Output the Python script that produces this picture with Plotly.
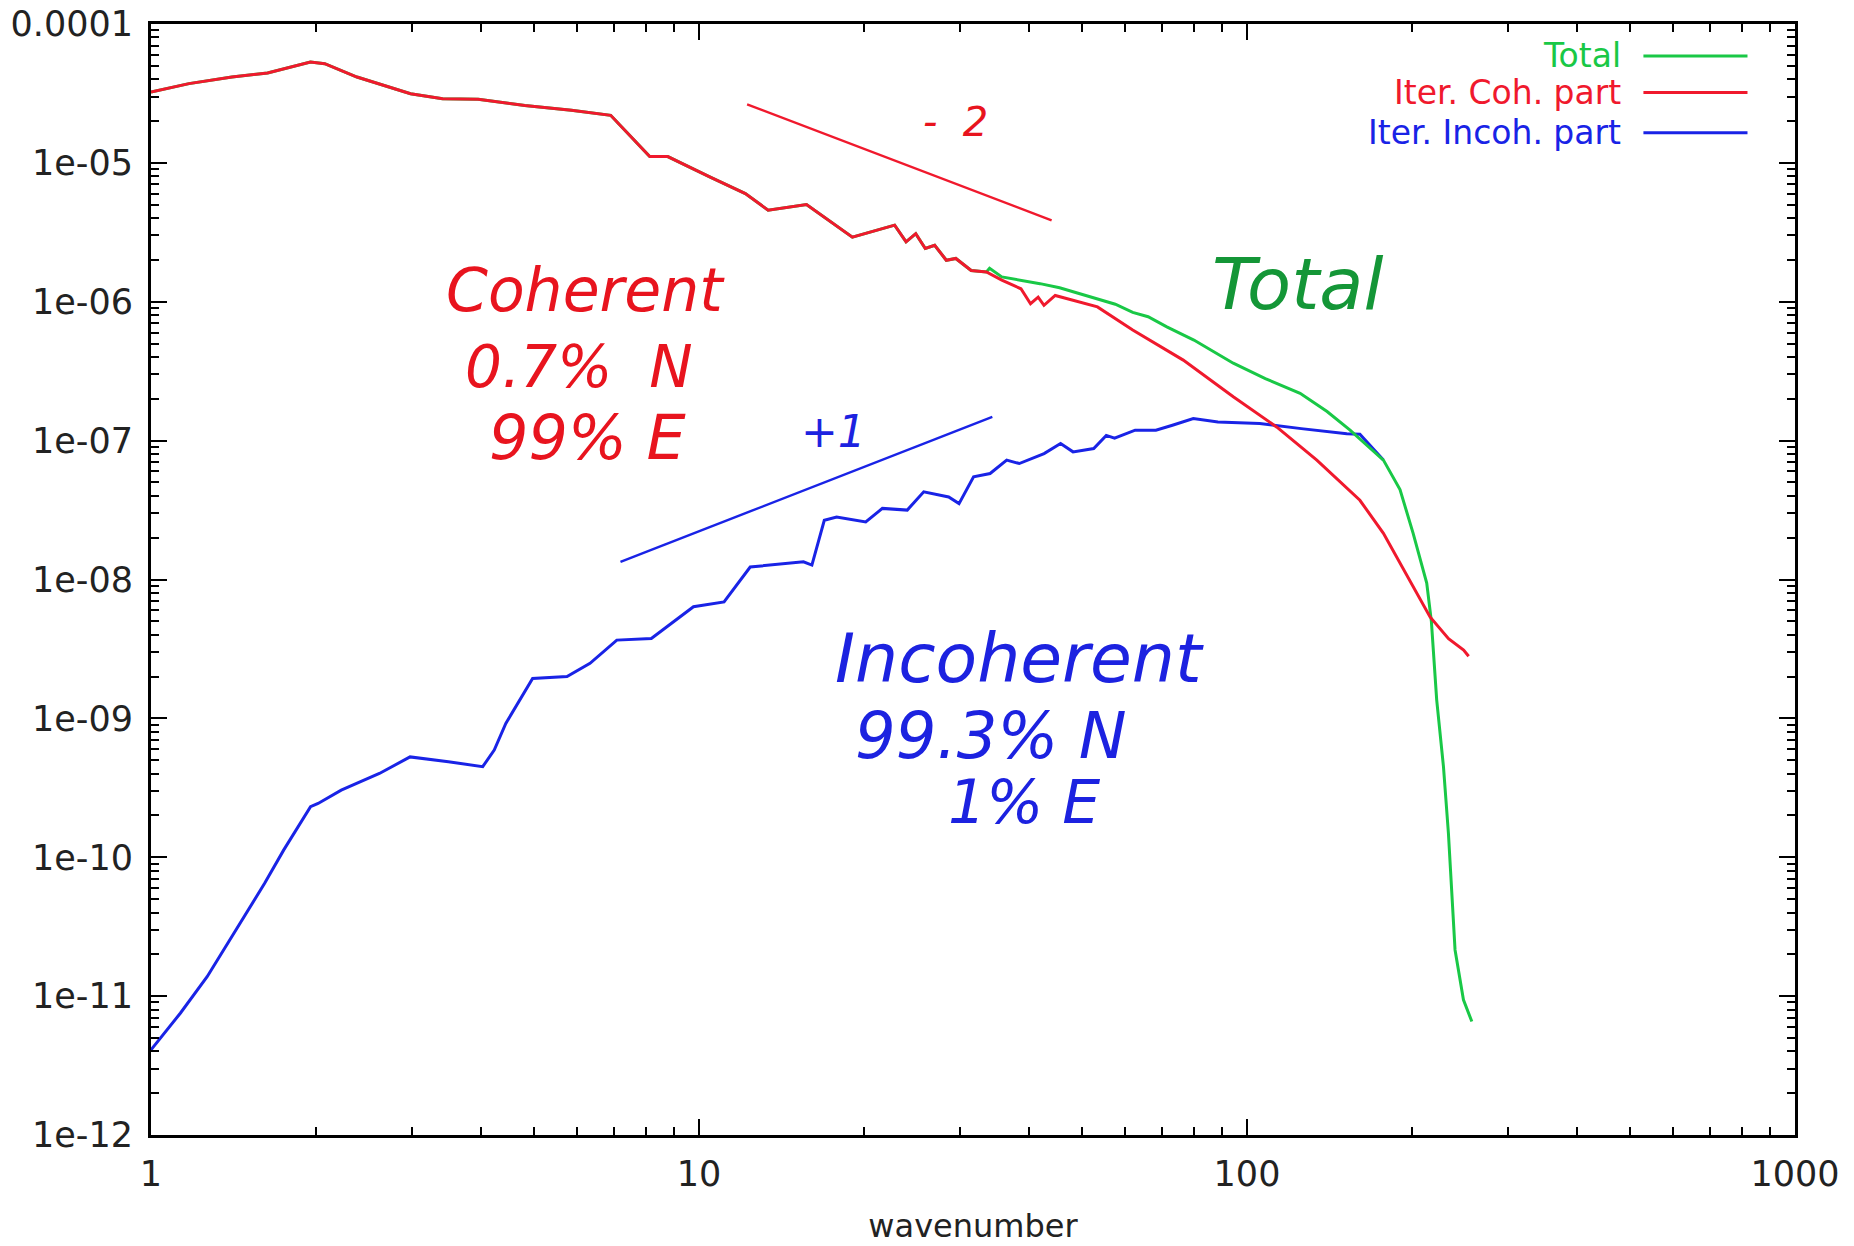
import plotly.graph_objects as go

# ---------------- data ----------------
k_tot = [1, 1.173, 1.405, 1.632, 1.954, 2.075, 2.376, 2.976, 3.405, 3.954, 4.81, 5.85, 6.90, 7.32,
         8.13, 8.77, 9.85, 10.46, 12.15, 13.37, 15.71, 19.05, 22.75, 23.87, 24.86, 25.88, 26.92,
         28.27, 29.42, 31.38, 33.46, 33.9, 35.69, 38.5, 41.91, 45.5, 49.2, 53.8, 57.5, 61.87, 66.0,
         71.4, 80.0, 94.4, 108, 125, 140, 154.2, 177.4, 190.2, 201, 212.8, 217, 221.9, 228.3,
         233.1, 236.5, 239.7, 248.3, 257.2]
E_tot = [3.24e-5, 3.72e-5, 4.15e-5, 4.44e-5, 5.32e-5, 5.18e-5, 4.15e-5, 3.15e-5, 2.90e-5, 2.87e-5,
         2.59e-5, 2.39e-5, 2.20e-5, 1.71e-5, 1.11e-5, 1.11e-5, 8.83e-6, 7.92e-6, 6.01e-6, 4.56e-6,
         5.01e-6, 2.92e-6, 3.56e-6, 2.70e-6, 3.09e-6, 2.42e-6, 2.55e-6, 1.99e-6, 2.05e-6, 1.68e-6,
         1.64e-6, 1.74e-6, 1.51e-6, 1.44e-6, 1.35e-6, 1.26e-6, 1.15e-6, 1.03e-6, 9.6e-7, 8.38e-7,
         7.8e-7, 6.59e-7, 5.3e-7, 3.61e-7, 2.80e-7, 2.19e-7, 1.62e-7, 1.19e-7, 7.24e-8, 4.44e-8,
         2.15e-8, 9.42e-9, 5.0e-9, 1.36e-9, 4.49e-10, 1.49e-10, 4.92e-11, 2.15e-11, 9.40e-12, 6.56e-12]

k_coh = [1, 1.173, 1.405, 1.632, 1.954, 2.075, 2.376, 2.976, 3.405, 3.954, 4.81, 5.85, 6.90, 7.32,
         8.13, 8.77, 9.85, 10.46, 12.15, 13.37, 15.71, 19.05, 22.75, 23.87, 24.86, 25.88, 26.92,
         28.27, 29.42, 31.38, 33.46, 35.69, 38.68, 40.27, 41.58, 42.61, 44.67, 53.35, 61.87, 76.5,
         94.4, 113.4, 134.1, 160.7, 177.4, 195.9, 215.8, 233.2, 248.5, 253.8]
E_coh = [3.24e-5, 3.72e-5, 4.15e-5, 4.44e-5, 5.32e-5, 5.18e-5, 4.15e-5, 3.15e-5, 2.90e-5, 2.87e-5,
         2.59e-5, 2.39e-5, 2.20e-5, 1.71e-5, 1.11e-5, 1.11e-5, 8.83e-6, 7.92e-6, 6.01e-6, 4.56e-6,
         5.01e-6, 2.92e-6, 3.56e-6, 2.70e-6, 3.09e-6, 2.42e-6, 2.55e-6, 1.99e-6, 2.05e-6, 1.68e-6,
         1.64e-6, 1.43e-6, 1.24e-6, 9.68e-7, 1.08e-6, 9.42e-7, 1.11e-6, 9.18e-7, 6.25e-7, 3.80e-7,
         2.07e-7, 1.25e-7, 7.24e-8, 3.72e-8, 2.15e-8, 1.06e-8, 5.38e-9, 3.75e-9, 3.10e-9, 2.80e-9]

k_inc = [1, 1.131, 1.266, 1.417, 1.612, 1.747, 1.955, 2.018, 2.224, 2.611, 2.970, 3.489, 4.030,
         4.230, 4.441, 4.970, 5.743, 6.326, 7.08, 8.185, 9.77, 11.11, 12.40, 15.51, 16.07, 16.93,
         17.83, 20.15, 21.61, 23.99, 25.71, 28.55, 29.82, 31.70, 33.98, 36.43, 38.41, 42.63, 45.69,
         48.14, 52.52, 55.36, 57.33, 62.50, 68.2, 73.1, 79.8, 88.5, 105.5, 125.6, 152.1, 160.7, 177.4]
E_inc = [4.1e-12, 7.53e-12, 1.38e-11, 2.83e-11, 6.49e-11, 1.13e-10, 2.31e-10, 2.44e-10, 3.04e-10,
         4.01e-10, 5.28e-10, 4.87e-10, 4.49e-10, 5.92e-10, 9.19e-10, 1.94e-9, 2.00e-9, 2.49e-9,
         3.66e-9, 3.76e-9, 6.37e-9, 6.90e-9, 1.23e-8, 1.34e-8, 1.27e-8, 2.67e-8, 2.82e-8, 2.60e-8,
         3.25e-8, 3.16e-8, 4.28e-8, 3.93e-8, 3.52e-8, 5.48e-8, 5.80e-8, 7.24e-8, 6.84e-8, 8.07e-8,
         9.53e-8, 8.30e-8, 8.77e-8, 1.09e-7, 1.04e-7, 1.19e-7, 1.19e-7, 1.29e-7, 1.44e-7, 1.36e-7,
         1.33e-7, 1.22e-7, 1.12e-7, 1.11e-7, 7.24e-8]

# hand-drawn slope guides
k_slope_m2 = [12.24, 44.0]
E_slope_m2 = [2.64e-5, 3.86e-6]
k_slope_p1 = [7.19, 34.3]
E_slope_p1 = [1.34e-8, 1.48e-7]

x_tickvals = [1, 10, 100, 1000]
x_ticktext = ["1", "10", "100", "1000"]
y_tickvals = [1e-4, 1e-5, 1e-6, 1e-7, 1e-8, 1e-9, 1e-10, 1e-11, 1e-12]
y_ticktext = ["0.0001", "1e-05", "1e-06", "1e-07", "1e-08", "1e-09", "1e-10", "1e-11", "1e-12"]

legend_names = ["Total", "Iter. Coh. part", "Iter. Incoh. part"]

# ---------------- styling ----------------
C_GREEN = "rgb(25,200,70)"
C_RED = "rgb(240,25,45)"
C_BLUE = "rgb(25,35,230)"
H_RED = "rgb(232,20,30)"
H_BLUE = "rgb(28,34,224)"
H_GREEN = "rgb(20,150,55)"

fig = go.Figure()
fig.add_trace(go.Scatter(x=k_inc, y=E_inc, mode="lines", line=dict(color=C_BLUE, width=3),
                         name=legend_names[2], showlegend=False))
fig.add_trace(go.Scatter(x=k_tot, y=E_tot, mode="lines", line=dict(color=C_GREEN, width=3),
                         name=legend_names[0], showlegend=False))
fig.add_trace(go.Scatter(x=k_coh, y=E_coh, mode="lines", line=dict(color=C_RED, width=3),
                         name=legend_names[1], showlegend=False))
fig.add_trace(go.Scatter(x=k_slope_m2, y=E_slope_m2, mode="lines",
                         line=dict(color=C_RED, width=2.4), showlegend=False))
fig.add_trace(go.Scatter(x=k_slope_p1, y=E_slope_p1, mode="lines",
                         line=dict(color=C_BLUE, width=2.4), showlegend=False))

tick_font = dict(family="DejaVu Sans", size=35, color="#222")

x_minor = [m * 10 ** e for e in range(0, 3) for m in range(2, 10)]
y_minor = [m * 10.0 ** e for e in range(-12, -4) for m in range(2, 10)]

fig.update_xaxes(type="log", range=[0, 3], tickvals=x_tickvals, ticktext=x_ticktext,
                 ticks="inside", ticklen=16, tickwidth=2, tickcolor="black",
                 showline=True, linecolor="black", linewidth=3, mirror="ticks",
                 showgrid=False, zeroline=False, tickfont=tick_font, ticklabelstandoff=6,
                 automargin=False, ticklabeloverflow="allow",
                 minor=dict(tickvals=x_minor, ticks="inside", ticklen=8, tickwidth=1.5,
                            tickcolor="black", showgrid=False),
                 title=dict(text="wavenumber", font=dict(family="DejaVu Sans", size=32, color="#222"),
                            standoff=22))
fig.update_yaxes(type="log", range=[-12, -4], tickvals=y_tickvals, ticktext=y_ticktext,
                 ticks="inside", ticklen=16, tickwidth=2, tickcolor="black",
                 showline=True, linecolor="black", linewidth=3, mirror="ticks",
                 showgrid=False, zeroline=False, tickfont=tick_font, ticklabelstandoff=8,
                 automargin=False, ticklabeloverflow="allow",
                 minor=dict(tickvals=y_minor, ticks="inside", ticklen=8, tickwidth=1.5,
                            tickcolor="black", showgrid=False))

# ---------------- hand-written notes ----------------
hand = dict(family="DejaVu Sans", style="italic")
notes = [
    ("Coherent", 0.2642, 0.7606, H_RED, 60),
    ("0.7%  N", 0.2606, 0.6915, H_RED, 58),
    ("99% E", 0.2656, 0.6276, H_RED, 62),
    ("-  2", 0.4893, 0.9116, H_RED, 40),
    ("+1", 0.4152, 0.6329, H_BLUE, 44),
    ("Total", 0.6979, 0.7659, H_GREEN, 72),
    ("Incoherent", 0.5281, 0.4286, H_BLUE, 68),
    ("99.3% N", 0.5108, 0.3595, H_BLUE, 64),
    ("1% E", 0.5310, 0.2999, H_BLUE, 60),
]
for txt, px, py, col, sz in notes:
    fig.add_annotation(text=txt, x=px, y=py, xref="paper", yref="paper", showarrow=False,
                       xanchor="center", yanchor="middle",
                       font=dict(color=col, size=sz, **hand))

# ---------------- legend (text then line sample, like gnuplot) ----------------
leg_cols = [C_GREEN, C_RED, C_BLUE]
leg_y = [0.9712, 0.9383, 0.9021]
for name, col, ly in zip(legend_names, leg_cols, leg_y):
    fig.add_annotation(text=name, x=0.8954, y=ly, xref="paper", yref="paper", showarrow=False,
                       xanchor="right", yanchor="middle",
                       font=dict(family="DejaVu Sans", size=33, color=col))
    fig.add_shape(type="line", xref="paper", yref="paper", x0=0.9078, x1=0.9711, y0=ly, y1=ly,
                  line=dict(color=col, width=3))

fig.update_layout(width=1854, height=1246, plot_bgcolor="white", paper_bgcolor="white",
                  margin=dict(l=151, r=59, t=24, b=111), showlegend=False)

# remove the default page margin so the figure fills the window exactly
fig.write_html("out.html", config={"displayModeBar": False},
               post_script="document.body.style.margin='0';document.body.style.overflow='hidden';")
